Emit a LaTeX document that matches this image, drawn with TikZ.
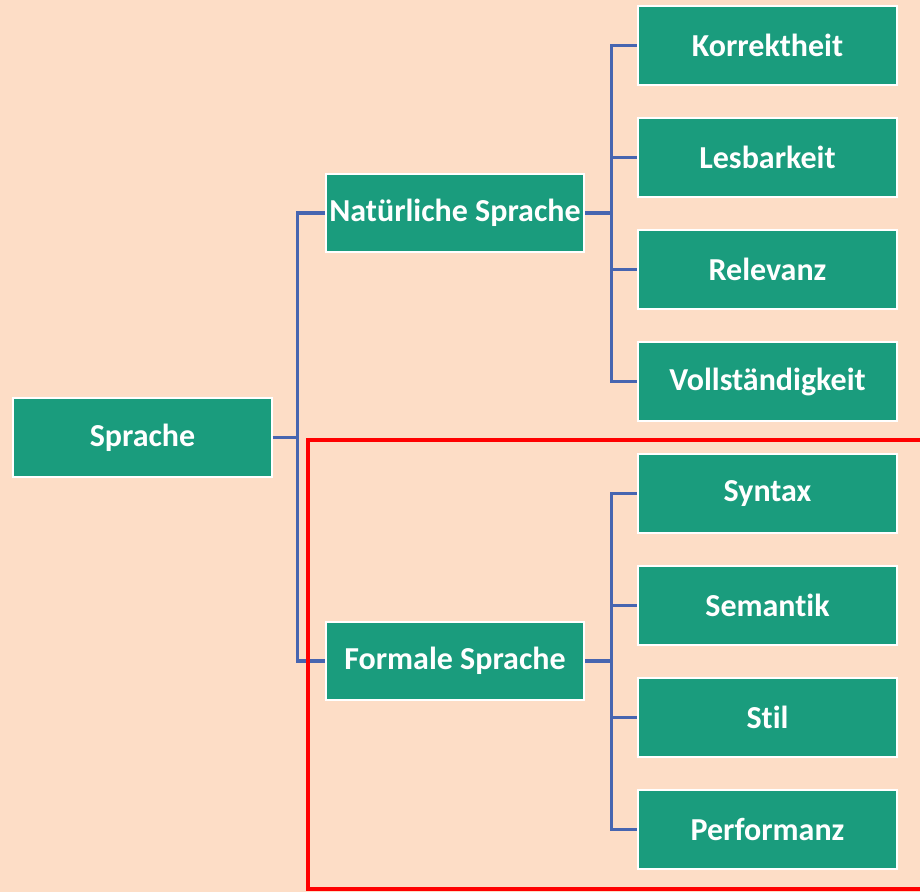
\documentclass[tikz,border=0pt]{standalone}
\usepackage{fontspec}
\setmainfont{Carlito}[Ligatures={NoCommon}]
\usepackage{tikz}
\usetikzlibrary{arrows}

\definecolor{peach}{HTML}{FDDDC6}
\definecolor{boxgreen}{HTML}{1A9C7D}
\definecolor{linkblue}{HTML}{4765B0}

\begin{document}
\begin{tikzpicture}[x=0.75pt,y=-0.75pt,-,thick,
  main node/.style={rectangle,fill=boxgreen,draw=white,line width=1.5pt,
    minimum width=194pt,minimum height=59pt,inner sep=0pt,text=white,
    font=\fontsize{24}{29}\selectfont\bfseries},
  link/.style={draw=linkblue,line width=2.4pt},
  frame/.style={draw=red,line width=2.4pt}]
  \fill[peach] (0,0) rectangle (920,892);
  \useasboundingbox (0,0) rectangle (920,892);

  % main tree
  \node[main node] (spr) at (142.5,437.5) {Sprache};
  \node[main node] (nat) at (455,213) {Natürliche Sprache};
  \node[main node] (for) at (455,661) {Formale Sprache};

  % leaves
  \node[main node] (kor) at (767.5,45.5) {Korrektheit};
  \node[main node] (les) at (767.5,157.5) {Lesbarkeit};
  \node[main node] (rel) at (767.5,269.5) {Relevanz};
  \node[main node] (vol) at (767.5,381.5) {Vollständigkeit};
  \node[main node] (syn) at (767.5,493.5) {Syntax};
  \node[main node] (sem) at (767.5,605.5) {Semantik};
  \node[main node] (sti) at (767.5,717.5) {Stil};
  \node[main node] (per) at (767.5,829.5) {Performanz};

  \draw[link] (spr.east) -- ++(25,0) |- (nat.west);
  \draw[link] (spr.east) -- ++(25,0) |- (for.west);

  \draw[link] (nat.east) -- ++(26,0) |- (kor.west);
  \draw[link] (nat.east) -- ++(26,0) |- (les.west);
  \draw[link] (nat.east) -- ++(26,0) |- (rel.west);
  \draw[link] (nat.east) -- ++(26,0) |- (vol.west);

  \draw[link] (for.east) -- ++(26,0) |- (syn.west);
  \draw[link] (for.east) -- ++(26,0) |- (sem.west);
  \draw[link] (for.east) -- ++(26,0) |- (sti.west);
  \draw[link] (for.east) -- ++(26,0) |- (per.west);

  % red frame round the formal part
  \draw[frame] (930,440) -- (308,440) -- (308,889) -- (930,889);
\end{tikzpicture}
\end{document}
